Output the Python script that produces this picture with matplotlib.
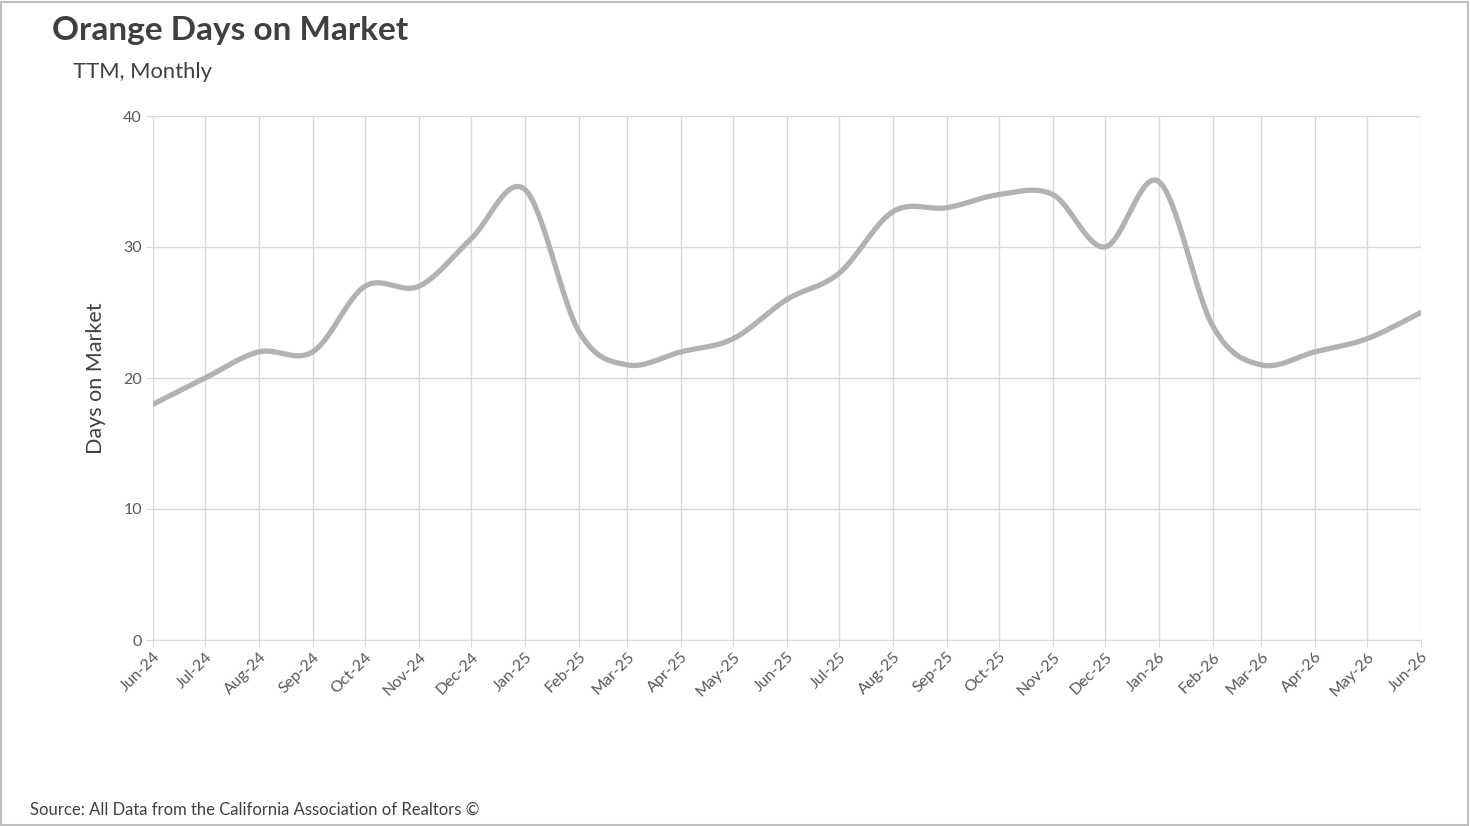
import matplotlib
matplotlib.use("Agg")
import matplotlib.pyplot as plt
import matplotlib.dates as mdates
import numpy as np
import pandas as pd

plt.rcParams['font.family'] = ['Lato', 'DejaVu Sans']

# data
months = pd.date_range("2024-06-01", "2026-06-01", freq="MS")
days_on_market = [18, 20, 22, 22, 27, 27, 30.6, 34.4, 23.6, 21, 22, 23, 26,
                  28, 32.7, 33, 34, 34, 30, 35, 24, 21, 22, 23, 25]

title = "Orange Days on Market"
subtitle = "TTM, Monthly"
y_label = "Days on Market"
source = "Source: All Data from the California Association of Realtors \u00a9"


def smooth(x, y, n=30):
    # Catmull-Rom style bezier, like spreadsheet "smoothed line"
    x = np.asarray(x, float)
    y = np.asarray(y, float)
    px = np.concatenate([[x[0]], x, [x[-1]]])
    py = np.concatenate([[y[0]], y, [y[-1]]])
    xs, ys = [], []
    t = np.linspace(0, 1, n)
    for i in range(1, len(px) - 2):
        p0 = np.array([px[i], py[i]])
        p3 = np.array([px[i + 1], py[i + 1]])
        c1 = p0 + (p3 - np.array([px[i - 1], py[i - 1]])) / 6
        c2 = p3 - (np.array([px[i + 2], py[i + 2]]) - p0) / 6
        b = ((1 - t) ** 3)[:, None] * p0 + (3 * (1 - t) ** 2 * t)[:, None] * c1 \
            + (3 * (1 - t) * t ** 2)[:, None] * c2 + (t ** 3)[:, None] * p3
        xs.extend(b[:, 0])
        ys.extend(b[:, 1])
    return np.array(xs), np.array(ys)


xnum = mdates.date2num(months)
sx, sy = smooth(xnum, days_on_market)

fig = plt.figure(figsize=(14.7, 8.26), dpi=100)
ax = fig.add_axes([153 / 1470, 1 - 640 / 826, (1421 - 153) / 1470, (640 - 116) / 826])

ax.plot(sx, sy, color="#b2b2b2", lw=3.8, solid_capstyle="round", zorder=3)

ax.set_xlim(xnum[0], xnum[-1])
ax.set_ylim(0, 40)
ax.set_yticks([0, 10, 20, 30, 40])
ax.set_xticks(xnum)
ax.set_xticklabels([m.strftime("%b-%y") for m in months], rotation=45,
                   ha="right", rotation_mode="anchor")
ax.grid(True, color="#d9d9d9", lw=1)
ax.set_axisbelow(True)
for s in ax.spines.values():
    s.set_visible(False)
ax.spines["bottom"].set_visible(True)
ax.spines["bottom"].set_color("#d9d9d9")
ax.tick_params(axis="x", colors="#d9d9d9", labelcolor="#595959", labelsize=11.5,
               length=5, pad=2)
ax.tick_params(axis="y", colors="#d9d9d9", labelcolor="#595959", labelsize=11.5,
               length=5, pad=3)
ax.set_ylabel(y_label, fontsize=15.5, color="#404040", labelpad=12)

fig.text(52 / 1470, 1 - 40 / 826, title, fontsize=24, fontweight="bold",
         color="#404040", ha="left", va="baseline")
fig.text(73 / 1470, 1 - 78 / 826, subtitle, fontsize=15.8, color="#404040",
         ha="left", va="baseline")
fig.text(30 / 1470, 1 - 815 / 826, source, fontsize=12, color="#404040",
         ha="left", va="baseline")

fig.patches.append(plt.Rectangle((1 / 1470, 1 / 826), 1 - 3 / 1470, 1 - 3 / 826,
                                 transform=fig.transFigure, fill=False,
                                 edgecolor="#bfbfbf", lw=1.5))

fig.savefig("out.png", dpi=100)
